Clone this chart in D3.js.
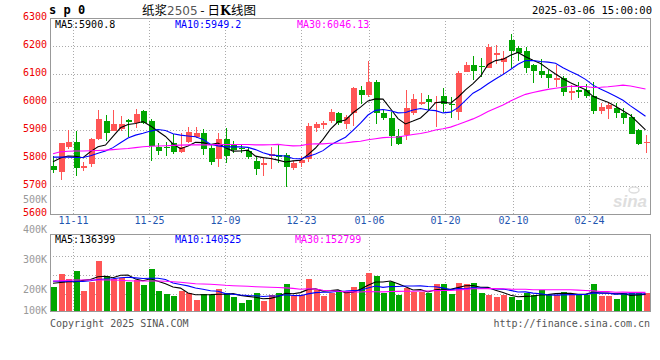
<!DOCTYPE html>
<html><head><meta charset="utf-8">
<script src="https://cdn.jsdelivr.net/npm/d3@7"></script>
<style>
body{margin:0;background:#fff}
text{font-family:"DejaVu Sans Mono",monospace;font-size:10px}
</style>
</head><body>
<svg id="c" width="660" height="360"></svg>
<script>
const dates = ["2024-11-06","2024-11-07","2024-11-08","2024-11-11","2024-11-12","2024-11-13","2024-11-14","2024-11-15","2024-11-18","2024-11-19",
"2024-11-20","2024-11-21","2024-11-22","2024-11-25","2024-11-26","2024-11-27","2024-11-28","2024-11-29","2024-12-02","2024-12-03",
"2024-12-04","2024-12-05","2024-12-06","2024-12-09","2024-12-10","2024-12-11","2024-12-12","2024-12-13","2024-12-16","2024-12-17",
"2024-12-18","2024-12-19","2024-12-20","2024-12-23","2024-12-24","2024-12-25","2024-12-26","2024-12-27","2024-12-30","2024-12-31",
"2025-01-02","2025-01-03","2025-01-06","2025-01-07","2025-01-08","2025-01-09","2025-01-10","2025-01-13","2025-01-14","2025-01-15",
"2025-01-16","2025-01-17","2025-01-20","2025-01-21","2025-01-22","2025-01-23","2025-01-24","2025-01-27","2025-02-05","2025-02-06",
"2025-02-07","2025-02-10","2025-02-11","2025-02-12","2025-02-13","2025-02-14","2025-02-17","2025-02-18","2025-02-19","2025-02-20",
"2025-02-21","2025-02-24","2025-02-25","2025-02-26","2025-02-27","2025-02-28","2025-03-03","2025-03-04","2025-03-05","2025-03-06"];

const open = [5773,5750,5840,5858,5768,5777,5868,5932,5897,5903,
5936,5926,5968,5932,5840,5841,5852,5822,5858,5876,
5890,5835,5798,5868,5845,5837,5825,5790,5775,5807,
5811,5811,5763,5781,5795,5908,5918,5932,5960,5920,
5960,6043,6025,6073,5962,5944,5879,5882,5960,5993,
6011,5995,6021,5993,5963,6108,6132,6129,6123,6168,
6142,6222,6192,6182,6131,6110,6100,6079,6086,6032,
6042,6043,6022,5969,5975,5979,5961,5947,5900,5852];
const high = [5807,5855,5900,5896,5787,5870,5973,5955,5971,5950,
5940,5975,5972,5940,5852,5858,5885,5888,5912,5912,
5905,5846,5888,5906,5862,5845,5835,5808,5802,5840,
5850,5817,5790,5807,5925,5930,5932,5975,5966,5955,
6055,6058,6146,6079,5972,5965,5904,6043,6030,6031,
6026,6020,6050,6019,6110,6143,6164,6156,6208,6205,
6183,6243,6199,6196,6134,6155,6114,6133,6092,6062,
6070,6065,6073,5996,5997,5996,5979,5957,5905,5882];
const low = [5745,5722,5832,5736,5752,5769,5866,5862,5895,5895,
5876,5906,5922,5790,5811,5808,5815,5818,5855,5872,
5811,5775,5769,5781,5818,5817,5795,5740,5736,5760,
5781,5695,5757,5769,5787,5892,5902,5924,5918,5902,
5915,5992,6018,5922,5934,5842,5846,5866,5952,5988,
5968,5912,5965,5944,5937,6106,6080,6090,6120,6135,
6100,6121,6148,6104,6068,6085,6050,6055,6020,6008,
6016,6014,5958,5957,5940,5944,5920,5884,5846,5818];
const close = [5758,5853,5858,5765,5770,5868,5939,5890,5921,5921,
5928,5957,5924,5843,5826,5835,5822,5840,5892,5890,
5831,5786,5868,5808,5830,5832,5802,5761,5782,5813,
5804,5769,5781,5793,5914,5921,5925,5963,5924,5946,
6050,6026,6073,5960,5943,5877,5851,5977,6011,5999,
5999,6001,5992,5988,6105,6132,6111,6124,6198,6174,
6156,6181,6176,6122,6109,6098,6086,6086,6037,6038,
6034,6023,5969,5981,5990,5962,5943,5886,5850,5858];

const ma5 = [5787,5800,5807,5806,5800.8,5822.8,5840,5846.4,5877.6,5907.8,
5919.8,5923.4,5930.2,5914.6,5895.6,5877,5850,5833.2,5843,5855.8,
5855,5847.8,5853.4,5836.6,5824.6,5824.8,5828,5806.6,5801.4,5798,
5792.4,5785.8,5789.8,5792,5812.2,5835.6,5866.8,5903.2,5929.4,5935.8,
5961.6,5981.8,6003.8,6011,6010.4,5975.8,5940.8,5921.6,5931.8,5943,
5967.4,5997.4,6000.4,5995.8,6017,6043.6,6065.6,6092,6134,6147.8,
6152.6,6166.6,6177,6161.8,6148.8,6137.2,6118.2,6100.2,6083.2,6069,
6056.2,6043.6,6020.2,6009,5999.4,5985,5969,5952.4,5926.2,5900.8];
const ma10 = [5803,5803,5803,5802,5802,5808,5817,5825,5837,5854.3,
5871.3,5881.7,5888.3,5896.1,5901.7,5898.4,5886.7,5881.7,5878.8,5875.7,
5866,5848.9,5843.3,5839.8,5840.2,5839.9,5837.9,5830,5819,5811.3,
5808.6,5806.9,5798.2,5796.7,5805.1,5814,5826.3,5846.5,5860.7,5874,
5898.6,5924.3,5953.5,5970.2,5973.1,5968.7,5961.3,5962.7,5971.4,5976.7,
5971.6,5969.1,5961,5963.8,5980,6005.5,6031.5,6046.2,6064.9,6082.4,
6098.1,6116.1,6134.5,6147.9,6148.3,6144.9,6142.4,6138.6,6122.5,6108.9,
6096.7,6080.9,6060.2,6046.1,6034.2,6020.6,6006.3,5986.3,5967.6,5949.2];
const ma30 = [5815,5822,5824,5825,5825,5826,5827,5828,5830,5832,
5834,5837,5840,5842,5843,5844,5845,5846,5847,5847,
5847,5847,5848,5848,5848,5848,5848,5847,5847,5847.1,
5848.6,5845.8,5843.3,5844.2,5849,5850.8,5850.3,5852.7,5852.8,5853.7,
5857.7,5860,5865,5868.9,5872.8,5874.2,5875.2,5879.7,5883.7,5887.3,
5892.9,5900.1,5904.2,5910.2,5919.4,5929.4,5939.7,5951.8,5965.7,5977.7,
5989.4,6003.2,6016.3,6027.3,6033.8,6039.7,6045.1,6049.2,6052.9,6056,
6055.5,6055.4,6051.9,6052.6,6054.2,6057,6060.1,6057,6051.7,6046.13];

const volume = [199700,304000,262900,328700,164300,235800,413300,287600,262900,268700,
240800,254700,213600,345100,164300,139700,125700,164300,145400,90400,
139700,131500,180800,145400,117500,68200,90400,145400,82200,131500,
145400,221900,125700,131500,262900,172600,125700,145400,158600,145400,
199700,240800,314700,290100,145400,240800,131500,186500,158600,158600,
145400,221900,221900,139700,232500,221900,232500,150400,131500,117500,
131500,117500,90400,145400,131500,172600,131500,131500,158600,131500,
131500,131500,221900,125700,125700,98600,145400,145400,145400,145400];
const volMa5 = [227600,234200,240800,240800,251900,259200,281000,286000,272800,293700,
294700,262900,248200,264600,243700,223500,197700,187800,147900,133100,
133100,134300,137600,137600,143000,128700,120500,113400,100700,103500,
119000,145300,141300,151200,177500,182900,163700,167600,173100,149500,
155000,178000,211800,238100,238100,246300,224500,198900,172600,175200,
156100,174200,181300,177500,192300,207600,209700,195400,193800,170800,
152700,129700,117700,120500,123300,131500,134300,142500,145100,145100,
136900,136900,155000,148400,147200,140700,143500,128200,132100,136399];
const volMa10 = [244000,244000,244000,244000,242400,249000,258800,262900,265400,272800,
276900,272000,267100,268700,268700,259100,230300,218000,206200,188400,
178300,166000,162700,142700,138000,130900,127400,125500,119100,123300,
123800,132900,127400,126000,140500,150900,154500,154500,162100,163500,
168900,170800,189700,205600,193800,200700,201200,205300,205300,206700,
201200,199300,190100,175000,183700,181800,191900,188300,185600,181500,
180100,169700,156500,157100,147000,142100,132000,130100,132800,134200,
134200,135600,148700,146800,146200,138800,140200,141600,140300,140525];
const volMa30 = [246500,249000,252300,254700,254700,254700,254700,254700,254700,252300,
249000,246500,246500,246500,246500,244000,240800,235800,230100,224300,
221900,219400,216100,211200,207900,205400,203000,199700,197200,194800,
193000,190300,185700,179100,182400,180300,170800,166000,162500,158400,
157000,156500,159900,158100,157400,160800,161100,161800,162200,164500,
164700,167700,169000,168900,172700,177800,182600,182700,184400,183900,
183400,180000,178800,179200,174900,174900,175000,174600,174600,174100,
171800,168200,165100,159700,159000,154200,154700,153300,152900,152799];

const priceTicks = [6300,6200,6100,6000,5900,5800,5700,5600];
const volTicks = [500000,400000,300000,200000,100000];
const volTickLabels = ["500K","400K","300K","200K","100K"];
const dateTickDates = ["2024-11-11","2024-11-25","2024-12-09","2024-12-23","2025-01-06","2025-01-20","2025-02-10","2025-02-24"];
const dateTickLabels = ["11-11","11-25","12-09","12-23","01-06","01-20","02-10","02-24"];

const svg = d3.select("#c");
const L = 50, R = 650, PT = 18, PB = 214, VT = 234, VB = 311;
const RED = "#ff5555", GREEN = "#00a600", GRID = "#aaaaaa", BORDER = "#999999";

const y = d3.scaleLinear().domain([5600, 6300]).range([PB, PT]);
const xb = d3.scaleBand().domain(dates).range([49.25, 649.25]);
const cx = d => xb(d) + xb.bandwidth() / 2;
const gx = d3.scaleLinear().domain([0, dates.length - 1]).range([L, R]);
const yv = d3.scaleLinear().domain([0, 632700]).range([VB, VT]);
const yvLab = d3.scaleLinear().domain([0, 500000]).range([350, 200]);
const vGrid = d3.scaleLinear().domain([0, 4]).range([237, 313]);

const data = dates.map((d, i) => ({d, i, o: open[i], h: high[i], l: low[i], c: close[i], v: volume[i]}));
const up = r => r.c >= r.o;

// grid
const gridG = svg.append("g").attr("shape-rendering", "crispEdges");
gridG.selectAll(".hg").data(priceTicks.slice(1, -1)).join("line")
  .attr("x1", L).attr("x2", R)
  .attr("y1", p => Math.round(y(p)) + 0.5).attr("y2", p => Math.round(y(p)) + 0.5)
  .attr("stroke", GRID).attr("stroke-dasharray", "1,2");
gridG.selectAll(".vhg").data([1, 2, 3]).join("line")
  .attr("x1", L).attr("x2", R)
  .attr("y1", k => Math.round(vGrid(k)) + 0.5).attr("y2", k => Math.round(vGrid(k)) + 0.5)
  .attr("stroke", GRID).attr("stroke-dasharray", "1,2");
const gridXs = dateTickDates.map(d => Math.round(gx(dates.indexOf(d))) + 0.5);
gridG.selectAll(".vg").data(gridXs).join("line")
  .attr("x1", x => x).attr("x2", x => x).attr("y1", PT).attr("y2", PB)
  .attr("stroke", GRID).attr("stroke-dasharray", "1,2");
gridG.selectAll(".vg2").data(gridXs).join("line")
  .attr("x1", x => x).attr("x2", x => x).attr("y1", VT).attr("y2", VB)
  .attr("stroke", GRID).attr("stroke-dasharray", "1,2");

// candles
const cg = svg.append("g").attr("shape-rendering", "crispEdges");
cg.selectAll(".wick").data(data).join("line")
  .attr("x1", r => Math.round(cx(r.d)) + 0.5).attr("x2", r => Math.round(cx(r.d)) + 0.5)
  .attr("y1", r => y(r.h)).attr("y2", r => y(r.l))
  .attr("stroke", r => up(r) ? RED : GREEN);
cg.selectAll(".body").data(data).join("rect")
  .attr("x", r => Math.round(cx(r.d)) - 2.5)
  .attr("width", 6)
  .attr("y", r => y(Math.max(r.o, r.c)))
  .attr("height", r => Math.max(1.5, Math.abs(y(r.o) - y(r.c))))
  .attr("fill", r => up(r) ? RED : GREEN);

// MA lines
const lineP = d3.line().x((v, i) => cx(dates[i])).y(v => y(v));
[[ma5, "#000"], [ma10, "#0000ff"], [ma30, "#ff00ff"]].forEach(([arr, col]) => {
  svg.append("path").attr("d", lineP(arr)).attr("fill", "none").attr("stroke", col).attr("stroke-width", 1.1);
});

// volume
const vg = svg.append("g").attr("shape-rendering", "crispEdges");
vg.selectAll(".vbar").data(data).join("rect")
  .attr("x", r => Math.round(cx(r.d)) - 2.5)
  .attr("width", 6)
  .attr("y", r => yv(r.v))
  .attr("height", r => VB - yv(r.v))
  .attr("fill", r => up(r) ? RED : GREEN);
const lineV = d3.line().x((v, i) => cx(dates[i])).y(v => yv(v));
[[volMa5, "#000"], [volMa10, "#0000ff"], [volMa30, "#ff00ff"]].forEach(([arr, col]) => {
  svg.append("path").attr("d", lineV(arr)).attr("fill", "none").attr("stroke", col).attr("stroke-width", 1.1);
});

// borders
const bg = svg.append("g").attr("shape-rendering", "crispEdges").attr("fill", "none").attr("stroke", BORDER);
bg.append("rect").attr("x", L + 0.5).attr("y", PT + 0.5).attr("width", R - L).attr("height", PB - PT);
bg.append("rect").attr("x", L + 0.5).attr("y", VT + 0.5).attr("width", R - L).attr("height", VB - VT);

// axis labels
svg.selectAll(".pl").data(priceTicks).join("text")
  .attr("x", 47).attr("y", p => y(p) - 1.5)
  .attr("text-anchor", "end").attr("dominant-baseline", "middle")
  .attr("fill", "#ee0000").text(p => p);
svg.selectAll(".vl").data(volTicks).join("text")
  .attr("x", 47).attr("y", v => Math.min(yvLab(v), VB))
  .attr("text-anchor", "end").attr("dominant-baseline", "middle")
  .attr("fill", "#999").text((v, i) => volTickLabels[i]);
svg.selectAll(".dl").data(dateTickDates).join("text")
  .attr("x", (d, i) => gridXs[i]).attr("y", 221)
  .attr("text-anchor", "middle").attr("dominant-baseline", "middle")
  .attr("fill", "#1f55b0").text((d, i) => dateTickLabels[i]);

// header
svg.append("text").attr("x", 49).attr("y", 14)
  .style("font-size", "12px").style("font-weight", "bold").attr("fill", "#000").text("s p 0");
const title = svg.append("text").attr("x", 142).attr("y", 14.5)
  .style("font-family", "'Noto Sans CJK SC', sans-serif").style("font-size", "12.5px").attr("fill", "#000");
title.append("tspan").text("纸浆");
title.append("tspan").attr("fill", "#555").style("font-family", "'DejaVu Sans', sans-serif").style("font-size", "12px").text("2505");
title.append("tspan").text(" - 日");
title.append("tspan").style("font-family", "'DejaVu Serif', serif").style("font-weight", "bold").style("font-size", "12.5px").text("K");
title.append("tspan").text("线图");
svg.append("text").attr("x", 652).attr("y", 14).attr("text-anchor", "end")
  .style("font-size", "10.5px").attr("fill", "#000").text("2025-03-06 15:00:00");

const n = dates.length - 1;
const maLab = [[55, "#000", "MA5:" + ma5[n]], [175, "#0000ff", "MA10:" + ma10[n]], [297, "#ff00ff", "MA30:" + ma30[n]]];
maLab.forEach(([x, col, t]) => svg.append("text").attr("x", x).attr("y", 24.5).attr("dominant-baseline", "middle").attr("fill", col).text(t));
const vLab = [[55, "#000", "MA5:" + volMa5[n]], [175, "#0000ff", "MA10:" + volMa10[n]], [295, "#ff00ff", "MA30:" + volMa30[n]]];
vLab.forEach(([x, col, t]) => svg.append("text").attr("x", x).attr("y", 240).attr("dominant-baseline", "middle").attr("fill", col).text(t));

// footer
svg.append("text").attr("x", 50).attr("y", 324).attr("dominant-baseline", "middle").attr("fill", "#555").text("Copyright 2025 SINA.COM");
svg.append("text").attr("x", 650).attr("y", 324).attr("text-anchor", "end").attr("dominant-baseline", "middle").attr("fill", "#555").text("http://finance.sina.com.cn");

// watermark
svg.append("text").attr("x", 613).attr("y", 207)
  .style("font-family", "'Liberation Sans', Arial, sans-serif").style("font-size", "17px")
  .style("font-style", "italic").style("font-weight", "bold").attr("fill", "#dedede").text("sina");
svg.append("ellipse").attr("cx", 634).attr("cy", 190).attr("rx", 5).attr("ry", 3).attr("fill", "none").attr("stroke", "#dedede").attr("stroke-width", 1.5);
</script>
</body></html>
